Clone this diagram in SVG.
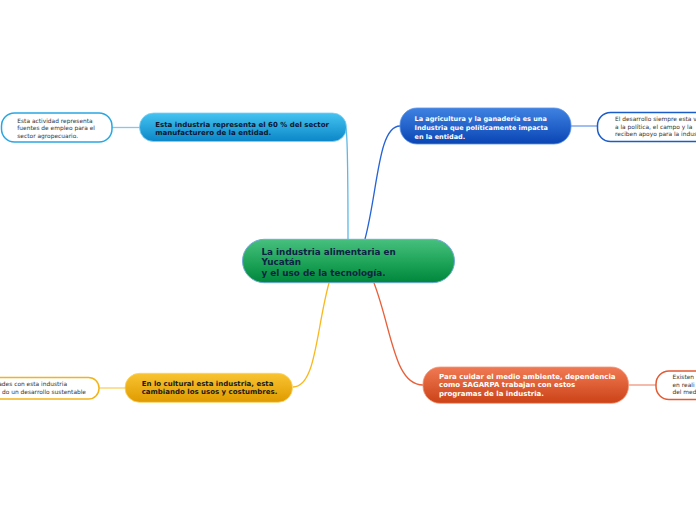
<svg xmlns="http://www.w3.org/2000/svg" width="696" height="520" viewBox="0 0 696 520">
<style>
.nt{font-family:"DejaVu Sans","Verdana",sans-serif;font-weight:bold}
.lt{font-family:"DejaVu Sans","Verdana",sans-serif;font-size:5.9px;fill:#333}
.conn{fill:none;stroke-width:1.3}
.leaf{fill:#fff;stroke-width:1.5}
</style>
<defs>
<linearGradient id="gC" x1="0" y1="0" x2="0" y2="1"><stop offset="0" stop-color="#47c07e"/><stop offset="0.55" stop-color="#1da357"/><stop offset="1" stop-color="#00873d"/></linearGradient>
<linearGradient id="gTL" x1="0" y1="0" x2="0" y2="1"><stop offset="0" stop-color="#45c3f0"/><stop offset="1" stop-color="#0b86c8"/></linearGradient>
<linearGradient id="gTR" x1="0" y1="0" x2="0" y2="1"><stop offset="0" stop-color="#3f82e2"/><stop offset="1" stop-color="#0a45b4"/></linearGradient>
<linearGradient id="gBL" x1="0" y1="0" x2="0" y2="1"><stop offset="0" stop-color="#f8c431"/><stop offset="1" stop-color="#e09a00"/></linearGradient>
<linearGradient id="gBR" x1="0" y1="0" x2="0" y2="1"><stop offset="0" stop-color="#f07a54"/><stop offset="1" stop-color="#cc4216"/></linearGradient>
</defs>
<rect width="696" height="520" fill="#fff"/>
<g id="connectors">
<path class="conn" stroke="#5ab9e6" d="M348,239 C348,190 348,140 346,128"/>
<path class="conn" stroke="#2563d6" d="M365,239 C378,190 378,126 400,126"/>
<path class="conn" stroke="#f9b820" d="M329,283 C316,330 316,387 293,387"/>
<path class="conn" stroke="#e8603a" d="M374,283 C392,330 394,385 423,385"/>
<path class="conn" stroke="#7ccbee" d="M112,127.5 L140,127.5"/>
<path class="conn" stroke="#6d9de8" d="M571,126 L598,126"/>
<path class="conn" stroke="#fbd060" d="M99,388 L126,388"/>
<path class="conn" stroke="#f0957a" d="M628,385 L656,385"/>
</g>
<g id="central">
<rect x="242.5" y="239.3" width="212" height="43.4" rx="21.7" fill="url(#gC)" stroke="#72a8d8" stroke-width="1"/>
<text class="nt" font-size="8.8" fill="#0f2345"><tspan x="261.5" y="254.5">La industria alimentaria en</tspan><tspan x="261.5" y="265.2">Yucatán</tspan><tspan x="261.5" y="275.9">y el uso de la tecnología.</tspan></text>
</g>
<g id="node-tl">
<rect x="139.5" y="113" width="207" height="28.5" rx="14" fill="url(#gTL)" stroke="#7fd2f4" stroke-width="0.8"/>
<text class="nt" font-size="7" fill="#0b1530"><tspan x="155.3" y="126.5">Esta industria representa el 60 % del sector</tspan><tspan x="155.3" y="135.2">manufacturero de la entidad.</tspan></text>
</g>
<g id="leaf-tl">
<rect class="leaf" x="1.5" y="113" width="110.5" height="29" rx="13" stroke="#2aa7e3"/>
<text class="lt"><tspan x="17.3" y="122.5">Esta actividad representa</tspan><tspan x="17.3" y="130">fuentes de empleo para el</tspan><tspan x="17.3" y="137.5">sector agropecuario.</tspan></text>
</g>
<g id="node-tr">
<rect x="400" y="108" width="171" height="36" rx="17" fill="url(#gTR)" stroke="#5a93e6" stroke-width="0.8"/>
<text class="nt" font-size="6.5" fill="#fff"><tspan x="414.5" y="121.3">La agricultura y la ganadería es una</tspan><tspan x="414.5" y="130">Industria que políticamente impacta</tspan><tspan x="414.5" y="138.7">en la entidad.</tspan></text>
</g>
<g id="leaf-tr">
<rect class="leaf" x="597.5" y="112.5" width="130" height="29" rx="13" stroke="#1a5cc8"/>
<text class="lt"><tspan x="615" y="121.3">El desarrollo siempre esta v</tspan><tspan x="615" y="128.5">a la política, el campo y la</tspan><tspan x="615" y="135.7">reciben apoyo para la indus</tspan></text>
</g>
<g id="node-bl">
<rect x="125" y="373.3" width="167.5" height="29" rx="14.5" fill="url(#gBL)" stroke="#fbd35a" stroke-width="0.8"/>
<text class="nt" font-size="7" fill="#1a1a1a"><tspan x="141.7" y="385.7">En lo cultural esta industria, esta</tspan><tspan x="141.7" y="394.3">cambiando los usos y costumbres.</tspan></text>
</g>
<g id="leaf-bl">
<rect class="leaf" x="-40" y="377.5" width="139" height="21.5" rx="10.5" stroke="#f3b41a"/>
<text class="lt" text-anchor="end"><tspan x="67" y="386">ades con esta industria</tspan><tspan x="86" y="394.3">do un desarrollo sustentable</tspan></text>
</g>
<g id="node-br">
<rect x="423" y="367" width="205.5" height="36.3" rx="17" fill="url(#gBR)" stroke="#f4977a" stroke-width="0.8"/>
<text class="nt" font-size="7" fill="#fff"><tspan x="439" y="378.6">Para cuidar el medio ambiente, dependencia</tspan><tspan x="439" y="387.4">como SAGARPA trabajan con estos</tspan><tspan x="439" y="396.2">programas de la industria.</tspan></text>
</g>
<g id="leaf-br">
<rect class="leaf" x="656" y="371" width="80" height="28.5" rx="13" stroke="#e35b33"/>
<text class="lt"><tspan x="672.5" y="379">Existen</tspan><tspan x="672.5" y="386.6">en reali</tspan><tspan x="672.5" y="394.2">del med</tspan></text>
</g>
</svg>
